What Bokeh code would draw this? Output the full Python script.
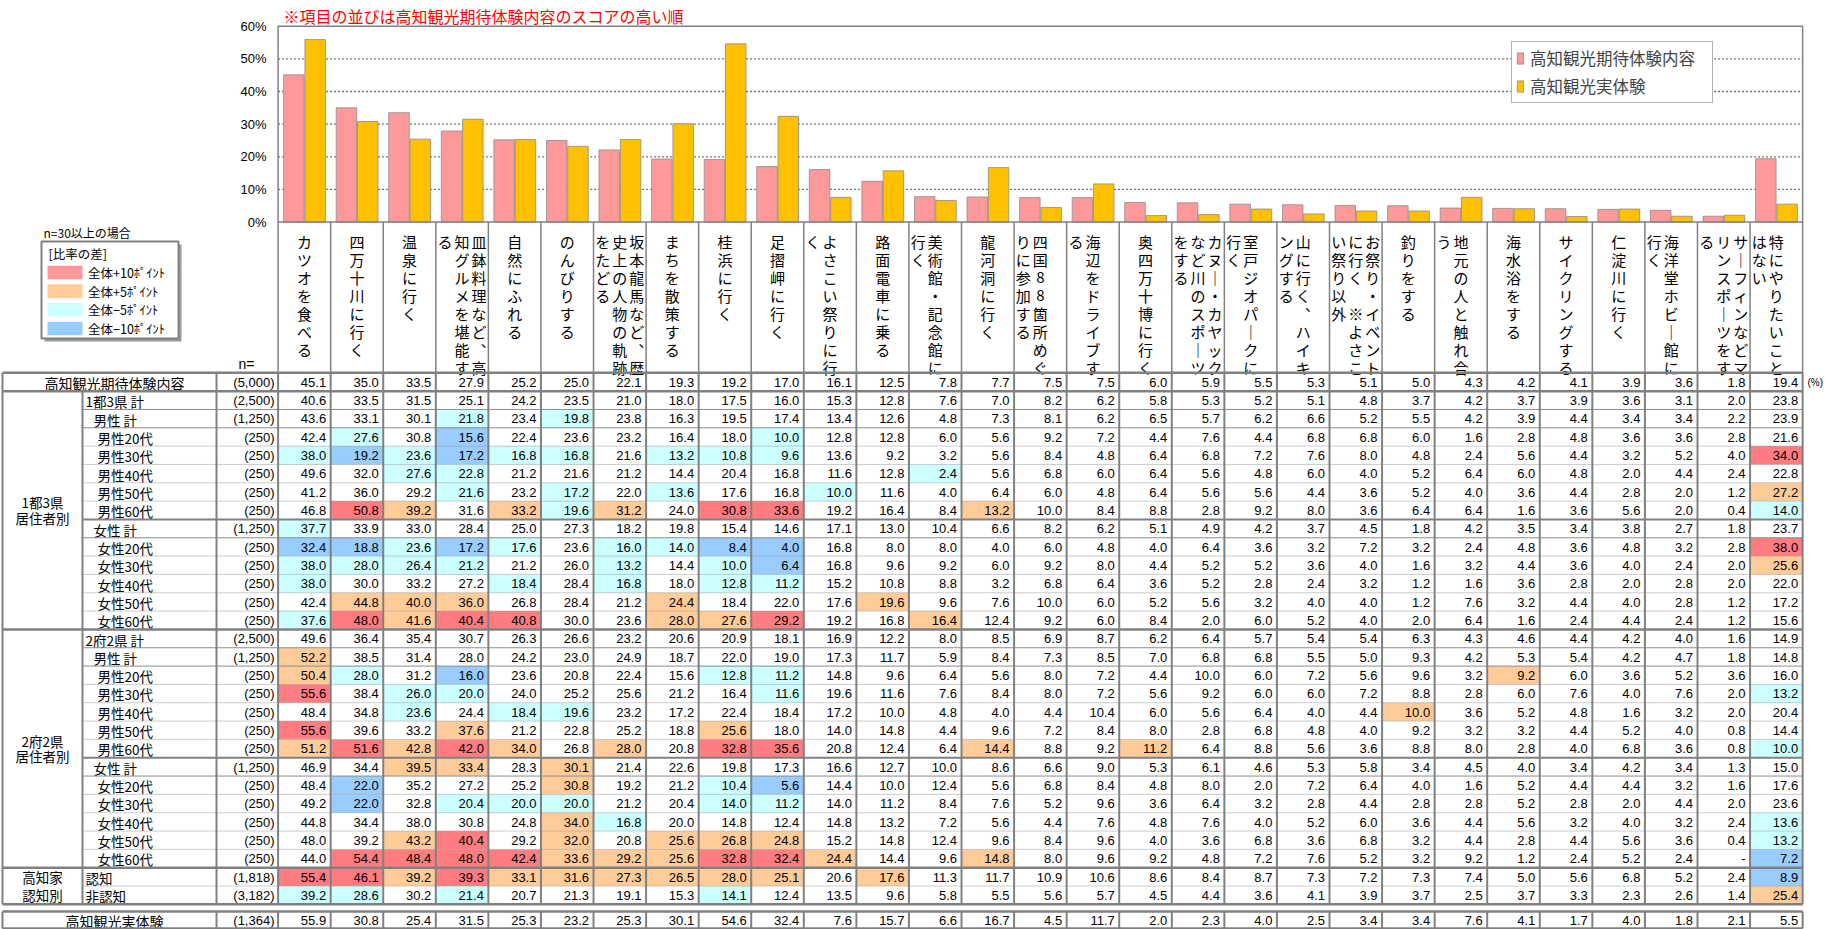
import numpy as np
from bokeh.plotting import figure
from bokeh.models import Range1d, ColumnDataSource, Legend, LegendItem
from bokeh.core.properties import value
from bokeh.embed import file_html
from bokeh.resources import INLINE

# ---------------- data ----------------
note_text = "※項目の並びは高知観光期待体験内容のスコアの高い順"
series_names = ["高知観光期待体験内容", "高知観光実体験"]

categories = ["カツオを食べる", "四万十川に行く", "温泉に行く", "皿鉢料理など、高知グルメを堪能する",
              "自然にふれる", "のんびりする", "坂本龍馬など、歴史上の人物の軌跡をたどる", "まちを散策する",
              "桂浜に行く", "足摺岬に行く", "よさこい祭りに行く", "路面電車に乗る", "美術館・記念館に行く",
              "龍河洞に行く", "四国88箇所めぐりに参加する", "海辺をドライブする", "奥四万十博に行く",
              "カヌー・カヤックなど川のスポーツをする", "室戸ジオパークに行く", "山に行く、ハイキングする",
              "お祭り・イベントに行く ※よさこい祭り以外", "釣りをする", "地元の人と触れ合う", "海水浴をする",
              "サイクリングする", "仁淀川に行く", "海洋堂ホビー館に行く", "サーフィンなどマリンスポーツをする",
              "特にやりたいことはない"]

expect = [45.1, 35.0, 33.5, 27.9, 25.2, 25.0, 22.1, 19.3, 19.2, 17.0, 16.1, 12.5, 7.8, 7.7, 7.5, 7.5, 6.0, 5.9,
          5.5, 5.3, 5.1, 5.0, 4.3, 4.2, 4.1, 3.9, 3.6, 1.8, 19.4]
actual = [55.9, 30.8, 25.4, 31.5, 25.3, 23.2, 25.3, 30.1, 54.6, 32.4, 7.6, 15.7, 6.6, 16.7, 4.5, 11.7, 2.0, 2.3,
          4.0, 2.5, 3.4, 3.4, 7.6, 4.1, 1.7, 4.0, 1.8, 2.1, 5.5]
n_expect = 5000
n_actual = 1364
pct_ticks = [0, 10, 20, 30, 40, 50, 60]

# 1都3県 居住者別
k_total = [40.6, 33.5, 31.5, 25.1, 24.2, 23.5, 21.0, 18.0, 17.5, 16.0, 15.3, 12.8, 7.6, 7.0, 8.2, 6.2, 5.8, 5.3, 5.2, 5.1, 4.8, 3.7, 4.2, 3.7, 3.9, 3.6, 3.1, 2.0, 23.8]
k_m = [43.6, 33.1, 30.1, 21.8, 23.4, 19.8, 23.8, 16.3, 19.5, 17.4, 13.4, 12.6, 4.8, 7.3, 8.1, 6.2, 6.5, 5.7, 6.2, 6.6, 5.2, 5.5, 4.2, 3.9, 4.4, 3.4, 3.4, 2.2, 23.9]
k_m20 = [42.4, 27.6, 30.8, 15.6, 22.4, 23.6, 23.2, 16.4, 18.0, 10.0, 12.8, 12.8, 6.0, 5.6, 9.2, 7.2, 4.4, 7.6, 4.4, 6.8, 6.8, 6.0, 1.6, 2.8, 4.8, 3.6, 3.6, 2.8, 21.6]
k_m30 = [38.0, 19.2, 23.6, 17.2, 16.8, 16.8, 21.6, 13.2, 10.8, 9.6, 13.6, 9.2, 3.2, 5.6, 8.4, 4.8, 6.4, 6.8, 7.2, 7.6, 8.0, 4.8, 2.4, 5.6, 4.4, 3.2, 5.2, 4.0, 34.0]
k_m40 = [49.6, 32.0, 27.6, 22.8, 21.2, 21.6, 21.2, 14.4, 20.4, 16.8, 11.6, 12.8, 2.4, 5.6, 6.8, 6.0, 6.4, 5.6, 4.8, 6.0, 4.0, 5.2, 6.4, 6.0, 4.8, 2.0, 4.4, 2.4, 22.8]
k_m50 = [41.2, 36.0, 29.2, 21.6, 23.2, 17.2, 22.0, 13.6, 17.6, 16.8, 10.0, 11.6, 4.0, 6.4, 6.0, 4.8, 6.4, 5.6, 5.6, 4.4, 3.6, 5.2, 4.0, 3.6, 4.4, 2.8, 2.0, 1.2, 27.2]
k_m60 = [46.8, 50.8, 39.2, 31.6, 33.2, 19.6, 31.2, 24.0, 30.8, 33.6, 19.2, 16.4, 8.4, 13.2, 10.0, 8.4, 8.8, 2.8, 9.2, 8.0, 3.6, 6.4, 6.4, 1.6, 3.6, 5.6, 2.0, 0.4, 14.0]
k_f = [37.7, 33.9, 33.0, 28.4, 25.0, 27.3, 18.2, 19.8, 15.4, 14.6, 17.1, 13.0, 10.4, 6.6, 8.2, 6.2, 5.1, 4.9, 4.2, 3.7, 4.5, 1.8, 4.2, 3.5, 3.4, 3.8, 2.7, 1.8, 23.7]
k_f20 = [32.4, 18.8, 23.6, 17.2, 17.6, 23.6, 16.0, 14.0, 8.4, 4.0, 16.8, 8.0, 8.0, 4.0, 6.0, 4.8, 4.0, 6.4, 3.6, 3.2, 7.2, 3.2, 2.4, 4.8, 3.6, 4.8, 3.2, 2.8, 38.0]
k_f30 = [38.0, 28.0, 26.4, 21.2, 21.2, 26.0, 13.2, 14.4, 10.0, 6.4, 16.8, 9.6, 9.2, 6.0, 9.2, 8.0, 4.4, 5.2, 5.2, 3.6, 4.0, 1.6, 3.2, 4.4, 3.6, 4.0, 2.4, 2.0, 25.6]
k_f40 = [38.0, 30.0, 33.2, 27.2, 18.4, 28.4, 16.8, 18.0, 12.8, 11.2, 15.2, 10.8, 8.8, 3.2, 6.8, 6.4, 3.6, 5.2, 2.8, 2.4, 3.2, 1.2, 1.6, 3.6, 2.8, 2.0, 2.8, 2.0, 22.0]
k_f50 = [42.4, 44.8, 40.0, 36.0, 26.8, 28.4, 21.2, 24.4, 18.4, 22.0, 17.6, 19.6, 9.6, 7.6, 10.0, 6.0, 5.2, 5.6, 3.2, 4.0, 4.0, 1.2, 7.6, 3.2, 4.4, 4.0, 2.8, 1.2, 17.2]
k_f60 = [37.6, 48.0, 41.6, 40.4, 40.8, 30.0, 23.6, 28.0, 27.6, 29.2, 19.2, 16.8, 16.4, 12.4, 9.2, 6.0, 8.4, 2.0, 6.0, 5.2, 4.0, 2.0, 6.4, 1.6, 2.4, 4.4, 2.4, 1.2, 15.6]
# 2府2県 居住者別
w_total = [49.6, 36.4, 35.4, 30.7, 26.3, 26.6, 23.2, 20.6, 20.9, 18.1, 16.9, 12.2, 8.0, 8.5, 6.9, 8.7, 6.2, 6.4, 5.7, 5.4, 5.4, 6.3, 4.3, 4.6, 4.4, 4.2, 4.0, 1.6, 14.9]
w_m = [52.2, 38.5, 31.4, 28.0, 24.2, 23.0, 24.9, 18.7, 22.0, 19.0, 17.3, 11.7, 5.9, 8.4, 7.3, 8.5, 7.0, 6.8, 6.8, 5.5, 5.0, 9.3, 4.2, 5.3, 5.4, 4.2, 4.7, 1.8, 14.8]
w_m20 = [50.4, 28.0, 31.2, 16.0, 23.6, 20.8, 22.4, 15.6, 12.8, 11.2, 14.8, 9.6, 6.4, 5.6, 8.0, 7.2, 4.4, 10.0, 6.0, 7.2, 5.6, 9.6, 3.2, 9.2, 6.0, 3.6, 5.2, 3.6, 16.0]
w_m30 = [55.6, 38.4, 26.0, 20.0, 24.0, 25.2, 25.6, 21.2, 16.4, 11.6, 19.6, 11.6, 7.6, 8.4, 8.0, 7.2, 5.6, 9.2, 6.0, 6.0, 7.2, 8.8, 2.8, 6.0, 7.6, 4.0, 7.6, 2.0, 13.2]
w_m40 = [48.4, 34.8, 23.6, 24.4, 18.4, 19.6, 23.2, 17.2, 22.4, 18.4, 17.2, 10.0, 4.8, 4.0, 4.4, 10.4, 6.0, 5.6, 6.4, 4.0, 4.4, 10.0, 3.6, 5.2, 4.8, 1.6, 3.2, 2.0, 20.4]
w_m50 = [55.6, 39.6, 33.2, 37.6, 21.2, 22.8, 25.2, 18.8, 25.6, 18.0, 14.0, 14.8, 4.4, 9.6, 7.2, 8.4, 8.0, 2.8, 6.8, 4.8, 4.0, 9.2, 3.2, 3.2, 4.4, 5.2, 4.0, 0.8, 14.4]
w_m60 = [51.2, 51.6, 42.8, 42.0, 34.0, 26.8, 28.0, 20.8, 32.8, 35.6, 20.8, 12.4, 6.4, 14.4, 8.8, 9.2, 11.2, 6.4, 8.8, 5.6, 3.6, 8.8, 8.0, 2.8, 4.0, 6.8, 3.6, 0.8, 10.0]
w_f = [46.9, 34.4, 39.5, 33.4, 28.3, 30.1, 21.4, 22.6, 19.8, 17.3, 16.6, 12.7, 10.0, 8.6, 6.6, 9.0, 5.3, 6.1, 4.6, 5.3, 5.8, 3.4, 4.5, 4.0, 3.4, 4.2, 3.4, 1.3, 15.0]
w_f20 = [48.4, 22.0, 35.2, 27.2, 25.2, 30.8, 19.2, 21.2, 10.4, 5.6, 14.4, 10.0, 12.4, 5.6, 6.8, 8.4, 4.8, 8.0, 2.0, 7.2, 6.4, 4.0, 1.6, 5.2, 4.4, 4.4, 3.2, 1.6, 17.6]
w_f30 = [49.2, 22.0, 32.8, 20.4, 20.0, 20.0, 21.2, 20.4, 14.0, 11.2, 14.0, 11.2, 8.4, 7.6, 5.2, 9.6, 3.6, 6.4, 3.2, 2.8, 4.4, 2.8, 2.8, 5.2, 2.8, 2.0, 4.4, 2.0, 23.6]
w_f40 = [44.8, 34.4, 38.0, 30.8, 24.8, 34.0, 16.8, 20.0, 14.8, 12.4, 14.8, 13.2, 7.2, 5.6, 4.4, 7.6, 4.8, 7.6, 4.0, 5.2, 6.0, 3.6, 4.4, 5.6, 3.2, 4.0, 3.2, 2.4, 13.6]
w_f50 = [48.0, 39.2, 43.2, 40.4, 29.2, 32.0, 20.8, 25.6, 26.8, 24.8, 15.2, 14.8, 12.4, 9.6, 8.4, 9.6, 4.0, 3.6, 6.8, 3.6, 6.8, 3.2, 4.4, 2.8, 4.4, 5.6, 3.6, 0.4, 13.2]
w_f60 = [44.0, 54.4, 48.4, 48.0, 42.4, 33.6, 29.2, 25.6, 32.8, 32.4, 24.4, 14.4, 9.6, 14.8, 8.0, 9.6, 9.2, 4.8, 7.2, 7.6, 5.2, 3.2, 9.2, 1.2, 2.4, 5.2, 2.4, None, 7.2]
# 高知家 認知別
aware = [55.4, 46.1, 39.2, 39.3, 33.1, 31.6, 27.3, 26.5, 28.0, 25.1, 20.6, 17.6, 11.3, 11.7, 10.9, 10.6, 8.6, 8.4, 8.7, 7.3, 7.2, 7.3, 7.4, 5.0, 5.6, 6.8, 5.2, 2.4, 8.9]
unaware = [39.2, 28.6, 30.2, 21.4, 20.7, 21.3, 19.1, 15.3, 14.1, 12.4, 13.5, 9.6, 5.8, 5.5, 5.6, 5.7, 4.5, 4.4, 3.6, 4.1, 3.9, 3.7, 2.5, 3.7, 3.3, 2.3, 2.6, 1.4, 25.4]

legend_title = "n=30以上の場合"
legend_head = "[比率の差]"
level_labels = ["全体+10ﾎﾟｲﾝﾄ", "全体+5ﾎﾟｲﾝﾄ", "全体−5ﾎﾟｲﾝﾄ", "全体−10ﾎﾟｲﾝﾄ"]
level_codes = ["R", "O", "C", "B"]

# table rows: (label, indent, n, values)
table_rows = [
    ("高知観光期待体験内容", None, n_expect, expect),
    ("1都3県 計", 0, 2500, k_total),
    ("男性 計", 1, 1250, k_m),
    ("男性20代", 2, 250, k_m20),
    ("男性30代", 2, 250, k_m30),
    ("男性40代", 2, 250, k_m40),
    ("男性50代", 2, 250, k_m50),
    ("男性60代", 2, 250, k_m60),
    ("女性 計", 1, 1250, k_f),
    ("女性20代", 2, 250, k_f20),
    ("女性30代", 2, 250, k_f30),
    ("女性40代", 2, 250, k_f40),
    ("女性50代", 2, 250, k_f50),
    ("女性60代", 2, 250, k_f60),
    ("2府2県 計", 0, 2500, w_total),
    ("男性 計", 1, 1250, w_m),
    ("男性20代", 2, 250, w_m20),
    ("男性30代", 2, 250, w_m30),
    ("男性40代", 2, 250, w_m40),
    ("男性50代", 2, 250, w_m50),
    ("男性60代", 2, 250, w_m60),
    ("女性 計", 1, 1250, w_f),
    ("女性20代", 2, 250, w_f20),
    ("女性30代", 2, 250, w_f30),
    ("女性40代", 2, 250, w_f40),
    ("女性50代", 2, 250, w_f50),
    ("女性60代", 2, 250, w_f60),
    ("認知", 0, 1818, aware),
    ("非認知", 0, 3182, unaware),
]
groups = [(["1都3県", "居住者別"], 1, 14), (["2府2県", "居住者別"], 14, 27), (["高知家", "認知別"], 27, 29)]
# cells whose shown difference is exactly 5.0 points but are not highlighted (row index, column number)
boundary_plain = {(11, 2), (12, 10), (13, 6), (19, 29)}

# ---------------- layout helpers (page pixels -> data units) ----------------
W, H = 1829, 929
X0, CW = 277.6, 52.57          # x pixel of first data column, column width
Y0, RH = 372.3, 18.33          # y pixel of table top, row height
P0, PP = 221.6, 3.265          # y pixel of 0%, pixels per percent


def gx(px):
    return (px - X0) / CW


def gy(py):
    return (py - Y0) / RH


def gp(py):
    return (P0 - py) / PP


def level(r, c, v, base):
    if v is None or r == 0:
        return None
    d = round(v - base, 1)
    if (r, c + 1) in boundary_plain:
        return None
    if d >= 10:
        return "R"
    if d >= 5:
        return "O"
    if d <= -10:
        return "B"
    if d <= -5:
        return "C"
    return None


CJKS = "Noto Sans CJK JP"
CJK = value(CJKS)
NUM = value("Liberation Sans")
GRAY = "#808080"
cell_colors = {"R": "#FF7C80", "O": "#FFCC99", "C": "#CCFFFF", "B": "#99CCFF"}
legend_colors = {"R": "#FF9999", "O": "#FFCC99", "C": "#CCFFFF", "B": "#99CCFF"}

ncol = len(categories)

p = figure(width=W, height=H, x_range=Range1d(gx(0), gx(W)), y_range=Range1d(gy(H), gy(0)),
           x_axis_type=None, y_axis_type=None, toolbar_location=None, output_backend="svg",
           min_border=0, outline_line_color=None, background_fill_color="white",
           border_fill_color="white")
p.extra_y_ranges = {"pct": Range1d(gp(H), gp(0))}

# ---------------- bar chart ----------------
p.segment(x0=0, x1=ncol, y0=pct_ticks[1:-1], y1=pct_ticks[1:-1], y_range_name="pct",
          line_color="#6f6f6f", line_dash="2 2", line_width=1.3)
idx = np.arange(ncol)
src = ColumnDataSource(dict(xe=idx + 0.30, xa=idx + 0.705, expect=expect, actual=actual))
r_e = p.vbar(x="xe", top="expect", bottom=0, width=0.39, source=src, y_range_name="pct",
             fill_color="#FF9999", line_color="#8a8a8a", line_width=0.8)
r_a = p.vbar(x="xa", top="actual", bottom=0, width=0.39, source=src, y_range_name="pct",
             fill_color="#FFC000", line_color="#8a8a8a", line_width=0.8)
p.quad(left=0, right=ncol, bottom=pct_ticks[0], top=pct_ticks[-1], y_range_name="pct",
       fill_color=None, line_color=GRAY, line_width=1.5)
p.text(x=gx(266), y=pct_ticks, text=[f"{t}%" for t in pct_ticks], y_range_name="pct",
       text_align="right", text_baseline="middle", text_font=NUM, text_font_size="13px",
       text_color="black")
p.text(x=gx(283), y=gp(15), text=[note_text], y_range_name="pct", text_align="left",
       text_baseline="middle", text_font=CJK, text_font_size="16px", text_color="#FF0000")

legend = Legend(items=[LegendItem(label=series_names[0], renderers=[r_e]),
                       LegendItem(label=series_names[1], renderers=[r_a])],
                location=(1511, H - 103), margin=0, padding=4, spacing=4,
                label_text_font=CJKS, label_text_font_size="16.5px", label_height=18,
                glyph_width=8, glyph_height=14, label_standoff=6, label_width=178,
                border_line_color="#666666", border_line_width=1.5,
                background_fill_color="white", background_fill_alpha=1.0)
p.add_layout(legend)

# ---------------- left legend of colour levels ----------------
p.quad(left=gx(44), right=gx(181), top=gy(244), bottom=gy(341), fill_color="#9a9a9a",
       line_color=None)
p.quad(left=gx(41), right=gx(178), top=gy(241), bottom=gy(338), fill_color="white",
       line_color=GRAY, line_width=2)
p.text(x=gx(43), y=gy(232), text=[legend_title], text_font=CJK, text_font_size="12px",
       text_align="left", text_baseline="middle")
p.text(x=gx(48), y=gy(253), text=[legend_head], text_font=CJK, text_font_size="12.5px",
       text_align="left", text_baseline="middle")
lev_y = [gy(272 + 18.65 * k) for k in range(len(level_codes))]
p.quad(left=gx(47), right=gx(82), top=[v - 6.8 / RH for v in lev_y], bottom=[v + 6.8 / RH for v in lev_y],
       fill_color=[legend_colors[c] for c in level_codes], line_color=None)
p.text(x=gx(87.5), y=lev_y, text=level_labels, text_font=CJK, text_font_size="12.5px",
       text_align="left", text_baseline="middle")

# ---------------- vertical header labels ----------------
hx, hy, ht = [], [], []
char_top = gy(240.5)
char_step = 18.0 / RH
for i, cat in enumerate(categories):
    lines = [cat[k:k + 8] for k in range(0, len(cat), 8)]
    offs = {1: [0.0], 2: [0.0, -17.0], 3: [17.0, 0.0, -17.0]}[len(lines)]
    for line, off in zip(lines, offs):
        for k, ch in enumerate(line):
            if ch == " ":
                continue
            ch = {"ー": "｜", "、": "︑"}.get(ch, ch)
            hx.append(i + 0.5 + off / CW)
            hy.append(char_top + k * char_step)
            ht.append(ch)
p.text(x=hx, y=hy, text=ht, text_font=CJK, text_font_size="15px", text_align="center",
       text_baseline="middle", text_color="black")
p.segment(x0=list(range(ncol + 1)), x1=list(range(ncol + 1)), y0=gy(P0), y1=0,
          line_color=GRAY, line_width=1.5)
p.text(x=gx(246), y=gy(363), text=["n="], text_font=NUM, text_font_size="14px",
       text_align="center", text_baseline="middle")

# ---------------- table ----------------
nrow = len(table_rows)
LX0, LX1, LX2 = gx(2), gx(82), gx(216)
act_top, act_bot = gy(911), gy(928)

# coloured cells
cl, cr, ctp, cbt, cc = [], [], [], [], []
for r, (lab, ind, n, vals) in enumerate(table_rows):
    for c, v in enumerate(vals):
        code = level(r, c, v, expect[c])
        if code:
            cl.append(c)
            cr.append(c + 1)
            ctp.append(r)
            cbt.append(r + 1)
            cc.append(cell_colors[code])
p.quad(left=cl, right=cr, top=ctp, bottom=cbt, fill_color=cc, line_color=None)

# numbers
tx, ty, tt = [], [], []
for r, (lab, ind, n, vals) in enumerate(table_rows):
    for c, v in enumerate(vals):
        tx.append(c + 1 - 4.5 / CW)
        ty.append(r + 0.52)
        tt.append("-" if v is None else f"{v:.1f}")
act_mid = (act_top + act_bot) / 2
for c, v in enumerate(actual):
    tx.append(c + 1 - 4.5 / CW)
    ty.append(act_mid)
    tt.append(f"{v:.1f}")
p.text(x=tx, y=ty, text=tt, text_font=NUM, text_font_size="13px", text_align="right",
       text_baseline="middle", text_color="black")

# n column
nx = gx(274)
p.text(x=nx, y=[r + 0.52 for r in range(nrow)] + [act_mid],
       text=[f"({row[2]:,})" for row in table_rows] + [f"({n_actual:,})"],
       text_font=NUM, text_font_size="13px", text_align="right", text_baseline="middle")
p.text(x=gx(1807), y=0.55, text=["(%)"], text_font=NUM, text_font_size="10px",
       text_align="left", text_baseline="middle")

# row labels
indent_px = {0: 85.0, 1: 93.0, 2: 97.0}
lx, ly, lt = [], [], []
for r, (lab, ind, n, vals) in enumerate(table_rows):
    if ind is None:
        continue
    lx.append(gx(indent_px[ind]))
    ly.append(r + 0.55)
    lt.append(lab)
p.text(x=lx, y=ly, text=lt, text_font=CJK, text_font_size="13.5px", text_align="left",
       text_baseline="middle")
p.text(x=gx(114), y=[0.55, act_mid + 0.05], text=[table_rows[0][0], series_names[1]],
       text_font=CJK, text_font_size="14px", text_align="center", text_baseline="middle")
gxs, gys, gts = [], [], []
for names, r0, r1 in groups:
    mid = (r0 + r1) / 2
    for k, nm in enumerate(names):
        gxs.append((LX0 + LX1) / 2)
        gys.append(mid + (k - 0.5) * (1.0 if r1 - r0 <= 2 else 0.85))
        gts.append(nm)
p.text(x=gxs, y=gys, text=gts, text_font=CJK, text_font_size="13.5px", text_align="center",
       text_baseline="middle")

# grid lines of the table
thick_y = [0, 1, 14, 27, nrow]
mid_y = [8, 21]
thin_y = [2, 3, 9, 15, 16, 22]
dot_y = [y for y in range(2, nrow) if y not in thick_y + mid_y + thin_y]
p.segment(x0=LX1, x1=ncol, y0=dot_y, y1=dot_y, line_color="#9a9a9a", line_dash="1 1", line_width=1)
p.segment(x0=LX1, x1=ncol, y0=thin_y, y1=thin_y, line_color="#8c8c8c", line_width=1)
p.segment(x0=LX1, x1=ncol, y0=mid_y, y1=mid_y, line_color=GRAY, line_width=2)
p.segment(x0=LX0, x1=ncol, y0=thick_y, y1=thick_y, line_color=GRAY, line_width=2.5)
vx = [LX0, LX2] + list(range(ncol + 1))
p.segment(x0=vx, x1=vx, y0=0, y1=nrow, line_color=GRAY, line_width=2)
p.segment(x0=LX1, x1=LX1, y0=1, y1=nrow, line_color=GRAY, line_width=2)
p.segment(x0=LX0, x1=ncol, y0=[act_top, act_bot], y1=[act_top, act_bot], line_color=GRAY, line_width=2.5)
p.segment(x0=vx, x1=vx, y0=act_top, y1=act_bot, line_color=GRAY, line_width=2)

open("out.html", "w").write(file_html(p, INLINE))
